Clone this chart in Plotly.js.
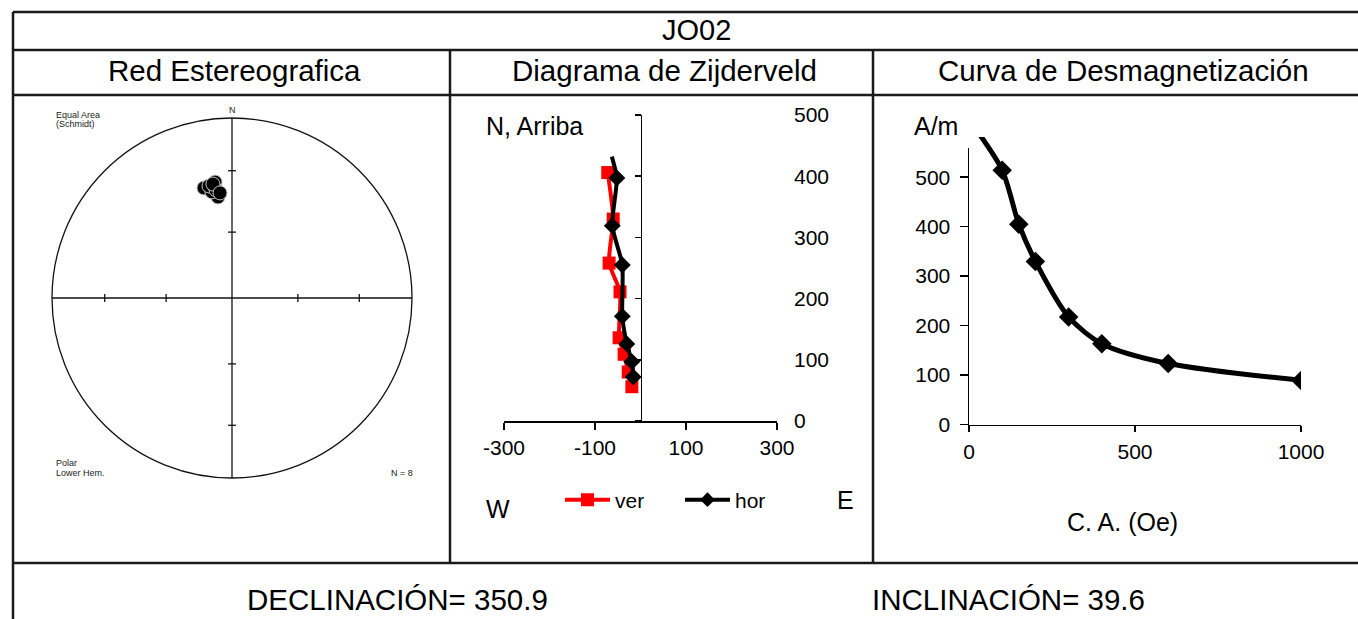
<!DOCTYPE html>
<html>
<head>
<meta charset="utf-8">
<script src="https://cdn.plot.ly/plotly-3.0.1.min.js"></script>
<style>html,body{margin:0;padding:0;background:#fff;}#chart{width:1358px;height:619px;}</style>
</head>
<body>
<div id="chart"></div>
<script>
// ---------- data ----------
const sampleName = 'JO02';
const declination = 350.9;
const inclination = 39.6;
const nSamples = 8;

// stereonet directions (declination, inclination)
const stereoDec = [345.7, 351.7, 352.1, 349.3, 348.4, 351.6, 350.5, 353.5];
const stereoInc = [37.0, 35.2, 42.8, 39.8, 36.6, 39.2, 36.0, 40.9];
const stereoTickInc = [30, 60];

// Zijderveld diagram
const zijVerE  = [-72, -60, -69, -45, -47, -36, -27, -19];
const zijVerUp = [406, 330, 258, 211, 136, 109, 80, 56];
const zijHorE  = [-63, -52, -62, -40, -40, -30, -19, -16];
const zijHorN  = [432, 397, 319, 255, 171, 126, 97, 72];
const zijTicksX = [-300, -100, 100, 300];

// demagnetization curve
const demagField = [0, 100, 150, 200, 300, 400, 600, 1000];
const demagInt   = [615, 513, 404, 329, 217, 163, 123, 89];
const demagTicksX = [0, 500, 1000];

// ---------- helpers ----------
const W = 1358, H = 619;
const px = x => x / W;
const py = y => 1 - y / H;
const FONT = 'Liberation Sans, Arial, sans-serif';
const eqR = inc => Math.SQRT2 * Math.sin((90 - inc) / 2 * Math.PI / 180);
function eqArea(dec, inc) {
  const r = eqR(inc), d = dec * Math.PI / 180;
  return [r * Math.sin(d), r * Math.cos(d)];
}
const stereoPts = stereoDec.map((d, i) => eqArea(d, stereoInc[i]));

// ---------- traces ----------
const traces = [
  {
    type: 'scatter', mode: 'markers', xaxis: 'x4', yaxis: 'y4',
    x: stereoPts.map(p => p[0]), y: stereoPts.map(p => p[1]),
    marker: {symbol: 'circle', size: 14, color: '#000', opacity: 1, line: {color: '#c8c8c8', width: 1}},
    showlegend: false, hoverinfo: 'skip'
  },
  {
    type: 'scatter', mode: 'lines+markers', name: 'ver', xaxis: 'x2', yaxis: 'y2',
    x: zijVerE, y: zijVerUp,
    line: {color: '#ff0000', width: 4, shape: 'spline', smoothing: 0.6},
    marker: {symbol: 'square', size: 13, color: '#ff0000', opacity: 1, line: {color: '#ff0000', width: 0}},
    hoverinfo: 'skip'
  },
  {
    type: 'scatter', mode: 'lines+markers', name: 'hor', xaxis: 'x2', yaxis: 'y2',
    x: zijHorE, y: zijHorN,
    line: {color: '#000', width: 4, shape: 'spline', smoothing: 0.6},
    marker: {symbol: 'diamond', size: zijHorE.map((v, i) => i === 0 ? 0 : 13), color: '#000', opacity: 1, line: {color: '#000', width: 0}},
    hoverinfo: 'skip'
  },
  {
    type: 'scatter', mode: 'markers', xaxis: 'x2', yaxis: 'y6', x: [], y: [],
    showlegend: false, hoverinfo: 'skip'
  },
  {
    type: 'scatter', mode: 'lines+markers', xaxis: 'x3', yaxis: 'y3',
    x: demagField, y: demagInt,
    line: {color: '#000', width: 5, shape: 'spline', smoothing: 0.8},
    marker: {symbol: 'diamond', size: demagField.map((v, i) => i === 0 ? 0 : 15), color: '#000', opacity: 1, line: {color: '#000', width: 0}},
    showlegend: false, hoverinfo: 'skip'
  },
  {
    type: 'scatter', mode: 'markers', xaxis: 'x3', yaxis: 'y5', x: [], y: [],
    showlegend: false, hoverinfo: 'skip'
  }
];

// ---------- shapes ----------
const shapes = [];
const tbl = {color: '#1a1a1a', width: 2.5};
const hline = (y, x0, x1) => shapes.push({type: 'line', xref: 'paper', yref: 'paper', x0: px(x0), x1: px(x1), y0: py(y), y1: py(y), line: tbl});
const vline = (x, y0, y1) => shapes.push({type: 'line', xref: 'paper', yref: 'paper', x0: px(x), x1: px(x), y0: py(y0), y1: py(y1), line: tbl});
hline(12, 13, W); hline(50, 13, W); hline(95, 13, W); hline(563, 13, W);
vline(13, 12, H); vline(450, 50, 563); vline(873, 50, 563);

// stereonet primitive circle, cross and ticks
const sLine = {color: '#111', width: 1.3};
shapes.push({type: 'circle', xref: 'x4', yref: 'y4', x0: -1, x1: 1, y0: -1, y1: 1, line: sLine});
shapes.push({type: 'line', xref: 'x4', yref: 'y4', x0: -1, x1: 1, y0: 0, y1: 0, line: sLine});
shapes.push({type: 'line', xref: 'x4', yref: 'y4', x0: 0, x1: 0, y0: -1, y1: 1, line: sLine});
const tk = 4 / 180;
stereoTickInc.forEach(inc => {
  const r = eqR(inc);
  [-1, 1].forEach(s => {
    shapes.push({type: 'line', xref: 'x4', yref: 'y4', x0: s * r, x1: s * r, y0: -tk, y1: tk, line: sLine});
    shapes.push({type: 'line', xref: 'x4', yref: 'y4', x0: -tk, x1: tk, y0: s * r, y1: s * r, line: sLine});
  });
});

// ---------- annotations ----------
const ann = [];
const txt = (text, x, y, size, xanchor) => ann.push({text, x: px(x), y: py(y), xref: 'paper', yref: 'paper', showarrow: false, xanchor: xanchor || 'center', yanchor: 'middle', font: {size, color: '#000', family: FONT}});
txt(sampleName, 697, 30, 29);
txt('Red Estereografica', 234, 71, 29.5);
txt('Diagrama de Zijderveld', 664, 71, 29.5);
txt('Curva de Desmagnetización', 1123, 71, 29.5);
txt('DECLINACIÓN= ' + declination.toFixed(1), 397, 599, 29.5);
txt('INCLINACIÓN= ' + inclination.toFixed(1), 1008, 599, 29.5);
txt('N, Arriba', 484, 126, 25, 'left');
txt('W', 498, 509, 25);
txt('E', 845, 500, 25);
txt('A/m', 912, 126, 25, 'left');
txt('C. A. (Oe)', 1122, 522, 25);
const small = (text, x, y, xanchor) => ann.push({text, x: px(x), y: py(y), xref: 'paper', yref: 'paper', showarrow: false, xanchor: xanchor || 'left', yanchor: 'middle', font: {size: 9, color: '#222', family: FONT}});
small('Equal Area', 54, 115);
small('(Schmidt)', 54, 124);
small('Polar', 54, 463);
small('Lower Hem.', 54, 473);
small('N = ' + nSamples, 389, 473);
ann.push({text: 'N', x: 0, y: 1, xref: 'x4', yref: 'y4', showarrow: false, yanchor: 'bottom', yshift: 1, font: {size: 9, color: '#222', family: FONT}});

// ---------- layout ----------
const axBase = {showgrid: false, zeroline: false, color: '#000', linecolor: '#000', tickcolor: '#000', linewidth: 1.5, tickwidth: 1.5, tickfont: {size: 21, color: '#000', family: FONT}, fixedrange: true};
const layout = {
  width: W, height: H, margin: {l: 0, r: 0, t: 0, b: 0},
  paper_bgcolor: '#fff', plot_bgcolor: 'rgba(0,0,0,0)',
  font: {family: FONT, color: '#000'},
  showlegend: true,
  legend: {orientation: 'h', x: px(560), y: py(500), xanchor: 'left', yanchor: 'middle', bgcolor: 'rgba(0,0,0,0)', font: {size: 21, color: '#000', family: FONT}, itemwidth: 45, entrywidth: 60, traceorder: 'normal'},
  xaxis4: {domain: [px(22), px(442)], range: [-210 / 180, 210 / 180], visible: false, anchor: 'y4'},
  yaxis4: {domain: [py(508), py(88)], range: [-210 / 180, 210 / 180], visible: false, anchor: 'x4'},
  xaxis2: Object.assign({}, axBase, {domain: [px(504), px(777)], range: [-300, 300], anchor: 'y2', showline: true, ticks: 'outside', ticklen: 7, tickvals: zijTicksX, ticktext: zijTicksX.map(String), ticklabelstandoff: 0}),
  yaxis2: Object.assign({}, axBase, {domain: [py(421), py(115)], range: [0, 500], anchor: 'free', position: px(640.5), side: 'left', showline: true, ticks: 'outside', ticklen: 6, dtick: 100, showticklabels: false}),
  yaxis6: Object.assign({}, axBase, {overlaying: 'y2', range: [0, 500], anchor: 'free', position: px(793), side: 'right', showline: false, ticks: '', dtick: 100}),
  xaxis3: Object.assign({}, axBase, {domain: [px(969), px(1301)], range: [0, 1000], anchor: 'y5', showline: true, ticks: 'outside', ticklen: 6, tickvals: demagTicksX, ticklabelstandoff: 2}),
  yaxis3: {domain: [py(424.5), py(137)], range: [0, 580], anchor: 'x3', visible: false, fixedrange: true},
  yaxis5: Object.assign({}, axBase, {domain: [py(424.5), py(147.5)], range: [0, 560], anchor: 'x3', showline: true, ticks: 'outside', ticklen: 8, dtick: 100, ticklabelstandoff: 5}),
  shapes, annotations: ann
};

Plotly.newPlot('chart', traces, layout, {staticPlot: true, displayModeBar: false});
</script>
</body>
</html>
